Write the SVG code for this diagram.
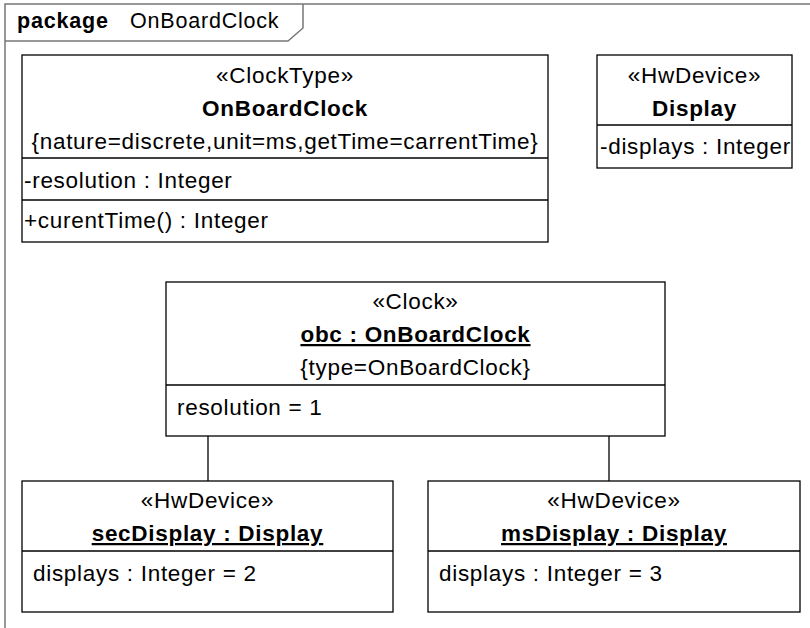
<svg xmlns="http://www.w3.org/2000/svg" width="810" height="628" viewBox="0 0 810 628">
<style>
text{font-family:"Liberation Sans",Arial,sans-serif;font-size:22.5px;letter-spacing:0.7px;fill:#000}
.c{text-anchor:middle}
.b{font-weight:bold}
.u{text-decoration:underline}
.h{font-size:21.5px;letter-spacing:0.8px}
.box{fill:#fff;stroke:#000;stroke-width:1.3}
.sep{stroke:#000;stroke-width:1.3}
.frame{fill:none;stroke:#777;stroke-width:1.5}
.con{stroke:#000;stroke-width:1.3;fill:none}
</style>
<rect width="810" height="628" fill="#fff"/>
<g id="package">
<rect class="frame" x="5" y="4" width="820" height="640"/>
<path class="frame" d="M5,41 H288 L303,28 V4"/>
<text x="17" y="28" class="b h">package</text>
<text x="130" y="28" class="h">OnBoardClock</text>
</g>
<g id="connectors">
<line class="con" x1="208" y1="436" x2="208" y2="481"/>
<line class="con" x1="609" y1="436" x2="609" y2="481"/>
</g>
<g id="OnBoardClock">
<rect class="box" x="22" y="55" width="526" height="187"/>
<text class="c" x="285" y="83">«ClockType»</text>
<text class="c b" x="285" y="116">OnBoardClock</text>
<text class="c" x="285" y="149">{nature=discrete,unit=ms,getTime=carrentTime}</text>
<line class="sep" x1="22" y1="158" x2="548" y2="158"/>
<text x="24" y="188">-resolution : Integer</text>
<line class="sep" x1="22" y1="200" x2="548" y2="200"/>
<text x="24" y="228">+curentTime() : Integer</text>
</g>
<g id="Display">
<rect class="box" x="597" y="55" width="195" height="113"/>
<text class="c" x="694.5" y="83">«HwDevice»</text>
<text class="c b" x="694.5" y="116">Display</text>
<line class="sep" x1="597" y1="125" x2="792" y2="125"/>
<text x="600" y="154">-displays : Integer</text>
</g>
<g id="obc">
<rect class="box" x="166" y="282" width="499" height="154"/>
<text class="c" x="415.5" y="309">«Clock»</text>
<text class="c b u" x="415.5" y="342">obc : OnBoardClock</text>
<text class="c" x="415.5" y="375">{type=OnBoardClock}</text>
<line class="sep" x1="166" y1="385" x2="665" y2="385"/>
<text x="177" y="415">resolution = 1</text>
</g>
<g id="secDisplay">
<rect class="box" x="22" y="481" width="371" height="131"/>
<text class="c" x="207.5" y="508">«HwDevice»</text>
<text class="c b u" x="207.5" y="541">secDisplay : Display</text>
<line class="sep" x1="22" y1="551" x2="393" y2="551"/>
<text x="33" y="581">displays : Integer = 2</text>
</g>
<g id="msDisplay">
<rect class="box" x="428" y="481" width="372" height="131"/>
<text class="c" x="614" y="508">«HwDevice»</text>
<text class="c b u" x="614" y="541">msDisplay : Display</text>
<line class="sep" x1="428" y1="551" x2="800" y2="551"/>
<text x="439" y="581">displays : Integer = 3</text>
</g>
</svg>
